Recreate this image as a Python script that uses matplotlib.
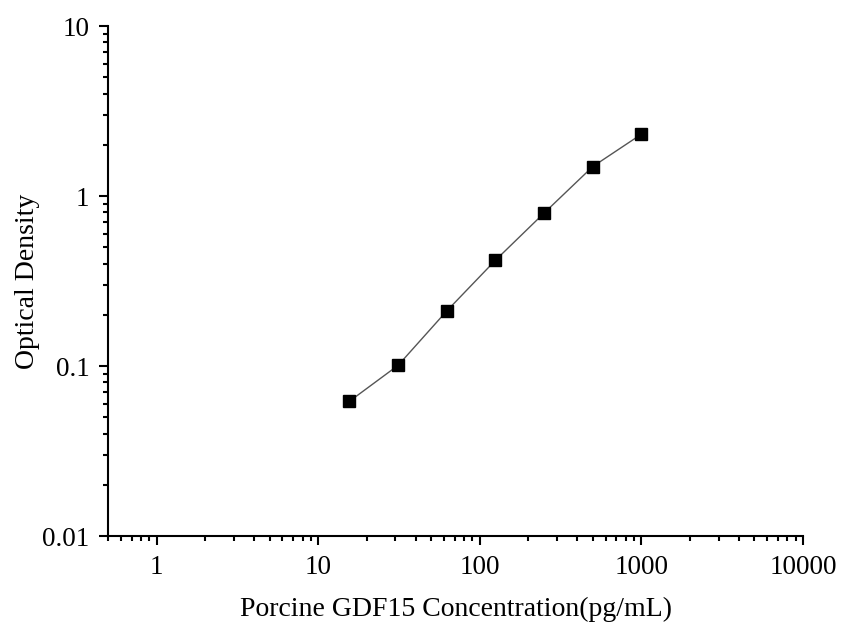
import matplotlib.pyplot as plt
import matplotlib.ticker as mticker

# Standard curve values
concentration = [15.6, 31.25, 62.5, 125, 250, 500, 1000]
optical_density = [0.062, 0.101, 0.211, 0.419, 0.794, 1.49, 2.31]

x_ticks = [1, 10, 100, 1000, 10000]
x_tick_labels = ['1', '10', '100', '1000', '10000']
y_ticks = [0.01, 0.1, 1, 10]
y_tick_labels = ['0.01', '0.1', '1', '10']

plt.rcParams['font.family'] = ['Liberation Serif', 'DejaVu Serif']

fig = plt.figure(figsize=(8.47, 6.39), dpi=100)
ax = fig.add_axes([108 / 847, 103 / 639, (803 - 108) / 847, (536 - 26) / 639])

ax.plot(concentration, optical_density, color='#555555', linewidth=1.0,
        marker='s', markersize=8.5, markerfacecolor='black',
        markeredgecolor='black', zorder=3)

ax.set_xscale('log')
ax.set_yscale('log')
ax.set_xlim(0.5, 10000)
ax.set_ylim(0.01, 10)

ax.set_xticks(x_ticks)
ax.set_xticklabels(x_tick_labels)
ax.set_yticks(y_ticks)
ax.set_yticklabels(y_tick_labels)
ax.xaxis.set_minor_locator(mticker.LogLocator(base=10, subs=range(2, 10)))
ax.yaxis.set_minor_locator(mticker.LogLocator(base=10, subs=range(2, 10)))
ax.xaxis.set_minor_formatter(mticker.NullFormatter())
ax.yaxis.set_minor_formatter(mticker.NullFormatter())

ax.spines['top'].set_visible(False)
ax.spines['right'].set_visible(False)
for side in ['left', 'bottom']:
    ax.spines[side].set_linewidth(1.5)

ax.tick_params(which='major', direction='out', length=6.5, width=1.5,
               labelsize=19.5, pad=7)
ax.tick_params(which='minor', direction='out', length=3.5, width=1.5)

ax.set_xlabel('Porcine GDF15 Concentration(pg/mL)', fontsize=20, labelpad=12)
ax.set_ylabel('Optical Density', fontsize=20)
ax.yaxis.set_label_coords(-0.098, 0.5)

fig.savefig('out.png', dpi=100)
